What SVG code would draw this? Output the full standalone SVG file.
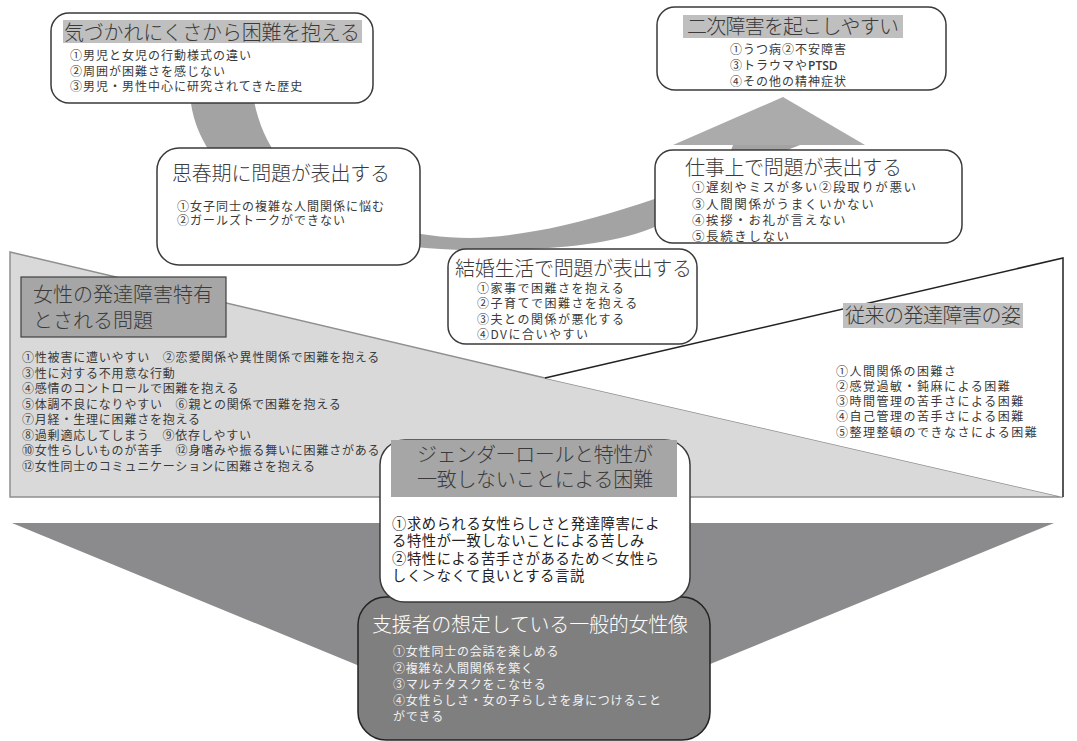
<svg xmlns="http://www.w3.org/2000/svg" width="1077" height="741" viewBox="0 0 1077 741">
<style>
.box{fill:#ffffff;stroke:#3a3a3a;stroke-width:1.5}
.hl{fill:#bfbfbf}
.t{font-family:"Noto Sans CJK JP","Noto Sans CJK SC",sans-serif;font-size:20px;fill:#3a3a3a;font-weight:300}
.i{font-family:"Noto Sans CJK JP","Noto Sans CJK SC",sans-serif;font-size:12px;fill:#3a3a3a;letter-spacing:1px}
.g{font-size:14.3px;letter-spacing:0.6px;fill:#222222}
.w{fill:#f2f2f2}
.tw{fill:#ffffff}
</style>
<rect x="0" y="0" width="1077" height="741" fill="#ffffff"/>

<g id="female-specific-region">
  <polygon points="10,252 545,378 1063,497 10,497" fill="#d9d9d9" stroke="#8f8f8f" stroke-width="1.5"/>
</g>

<g id="conventional-region">
  <polygon points="545,378 1063,258 1063,497" fill="#ffffff"/>
  <polyline points="545,378 1063,258 1063,497" fill="none" stroke="#222222" stroke-width="1.5"/>
</g>

<g id="supporter-triangle">
  <polygon points="12,523 1054,523 532,737" fill="#8b8b8d"/>
</g>

<g id="connectors">
  <path d="M190,95 C198,200 340,250 470,250 C600,250 700,240 733,145 L800,145 C660,200 560,236 470,238 C360,236 268,190 253,95 Z" fill="#a3a3a3"/>
  <polygon points="673,145 783,97 865,145" fill="#ababab"/>
</g>

<g id="node-unnoticed">
  <rect class="box" x="51" y="13" width="322" height="90" rx="18"/>
  <rect class="hl" x="63" y="20" width="299" height="23"/>
  <text class="t" x="64" y="40" textLength="296" lengthAdjust="spacing">気づかれにくさから困難を抱える</text>
  <text class="i" x="70" y="60">①男児と女児の行動様式の違い</text>
  <text class="i" x="70" y="76">②周囲が困難さを感じない</text>
  <text class="i" x="70" y="91">③男児・男性中心に研究されてきた歴史</text>
</g>

<g id="node-secondary">
  <rect class="box" x="657" y="7" width="289" height="83" rx="18"/>
  <rect class="hl" x="683" y="15" width="220" height="23"/>
  <text class="t" x="687" y="34" textLength="212" lengthAdjust="spacing">二次障害を起こしやすい</text>
  <text class="i" x="730" y="54">①うつ病②不安障害</text>
  <text class="i" x="730" y="70">③トラウマや<tspan font-family="'Open Sans',sans-serif" font-weight="600" letter-spacing="0">PTSD</tspan></text>
  <text class="i" x="730" y="86">④その他の精神症状</text>
</g>

<g id="node-puberty">
  <rect class="box" x="157" y="148" width="263" height="117" rx="22"/>
  <text class="t" x="172" y="181" textLength="218" lengthAdjust="spacing">思春期に問題が表出する</text>
  <text class="i" x="177" y="211">①女子同士の複雑な人間関係に悩む</text>
  <text class="i" x="177" y="225">②ガールズトークができない</text>
</g>

<g id="node-work">
  <rect class="box" x="655" y="150" width="307" height="93" rx="18"/>
  <text class="t" x="685" y="175" textLength="217" lengthAdjust="spacing">仕事上で問題が表出する</text>
  <text class="i" x="692" y="192" style="font-size:12.5px;letter-spacing:1.6px">①遅刻やミスが多い②段取りが悪い</text>
  <text class="i" x="692" y="209" style="font-size:12.5px;letter-spacing:1.6px">③人間関係がうまくいかない</text>
  <text class="i" x="692" y="225" style="font-size:12.5px;letter-spacing:1.6px">④挨拶・お礼が言えない</text>
  <text class="i" x="692" y="241" style="font-size:12.5px;letter-spacing:1.6px">⑤長続きしない</text>
</g>

<g id="node-marriage">
  <rect class="box" x="448" y="249" width="249" height="95" rx="18"/>
  <text class="t" x="455" y="276" textLength="237" lengthAdjust="spacing">結婚生活で問題が表出する</text>
  <text class="i" x="477" y="293" style="letter-spacing:1.5px">①家事で困難さを抱える</text>
  <text class="i" x="477" y="308" style="letter-spacing:1.5px">②子育てで困難さを抱える</text>
  <text class="i" x="477" y="324" style="letter-spacing:1.5px">③夫との関係が悪化する</text>
  <text class="i" x="477" y="339" style="letter-spacing:1.5px">④DVに合いやすい</text>
</g>

<g id="node-female-specific">
  <rect x="21" y="277" width="205" height="60" fill="#a6a6a6" stroke="#404040" stroke-width="1.2"/>
  <text class="t" x="33" y="302">女性の発達障害特有</text>
  <text class="t" x="33" y="328">とされる問題</text>
  <text class="i" x="22" y="362" style="letter-spacing:0.8px">①性被害に遭いやすい　②恋愛関係や異性関係で困難を抱える</text>
  <text class="i" x="22" y="377.5" style="letter-spacing:0.8px">③性に対する不用意な行動</text>
  <text class="i" x="22" y="393" style="letter-spacing:0.8px">④感情のコントロールで困難を抱える</text>
  <text class="i" x="22" y="408.5" style="letter-spacing:0.8px">⑤体調不良になりやすい　⑥親との関係で困難を抱える</text>
  <text class="i" x="22" y="424" style="letter-spacing:0.8px">⑦月経・生理に困難さを抱える</text>
  <text class="i" x="22" y="439.5" style="letter-spacing:0.8px">⑧過剰適応してしまう　⑨依存しやすい</text>
  <text class="i" x="22" y="455" style="letter-spacing:0.8px">⑩女性らしいものが苦手　⑫身嗜みや振る舞いに困難さがある</text>
  <text class="i" x="22" y="470.5" style="letter-spacing:0.8px">⑫女性同士のコミュニケーションに困難さを抱える</text>
</g>

<g id="node-conventional">
  <rect class="hl" x="843" y="303" width="180" height="25"/>
  <text class="t" x="845" y="323" textLength="176" lengthAdjust="spacing">従来の発達障害の姿</text>
  <text class="i" x="836" y="376" style="letter-spacing:1.5px">①人間関係の困難さ</text>
  <text class="i" x="836" y="391" style="letter-spacing:1.5px">②感覚過敏・鈍麻による困難</text>
  <text class="i" x="836" y="406" style="letter-spacing:1.5px">③時間管理の苦手さによる困難</text>
  <text class="i" x="836" y="421" style="letter-spacing:1.5px">④自己管理の苦手さによる困難</text>
  <text class="i" x="836" y="437" style="letter-spacing:1.5px">⑤整理整頓のできなさによる困難</text>
</g>

<g id="node-supporter">
  <rect x="358" y="597" width="352" height="143" rx="28" fill="#7f7f7f" stroke="#222222" stroke-width="1.5"/>
  <text class="t tw" x="372" y="632" textLength="316" lengthAdjust="spacing">支援者の想定している一般的女性像</text>
  <text class="i w" x="393" y="656" style="letter-spacing:0.8px">①女性同士の会話を楽しめる</text>
  <text class="i w" x="393" y="673" style="letter-spacing:0.8px">②複雑な人間関係を築く</text>
  <text class="i w" x="393" y="689" style="letter-spacing:0.8px">③マルチタスクをこなせる</text>
  <text class="i w" x="393" y="705" style="letter-spacing:0.8px">④女性らしさ・女の子らしさを身につけること</text>
  <text class="i w" x="393" y="721" style="letter-spacing:0.8px">ができる</text>
</g>

<g id="node-gender-role">
  <rect class="box" x="380" y="440" width="310" height="162" rx="25"/>
  <rect x="391" y="440" width="286" height="57" fill="#a6a6a6"/>
  <text class="t" x="535" y="462" text-anchor="middle" textLength="236" lengthAdjust="spacing">ジェンダーロールと特性が</text>
  <text class="t" x="535" y="487" text-anchor="middle" textLength="236" lengthAdjust="spacing">一致しないことによる困難</text>
  <text class="i g" x="392" y="528.5">①求められる女性らしさと発達障害によ</text>
  <text class="i g" x="392" y="545.5">る特性が一致しないことによる苦しみ</text>
  <text class="i g" x="392" y="563.5">②特性による苦手さがあるため＜女性ら</text>
  <text class="i g" x="392" y="580.5">しく＞なくて良いとする言説</text>
</g>
</svg>
